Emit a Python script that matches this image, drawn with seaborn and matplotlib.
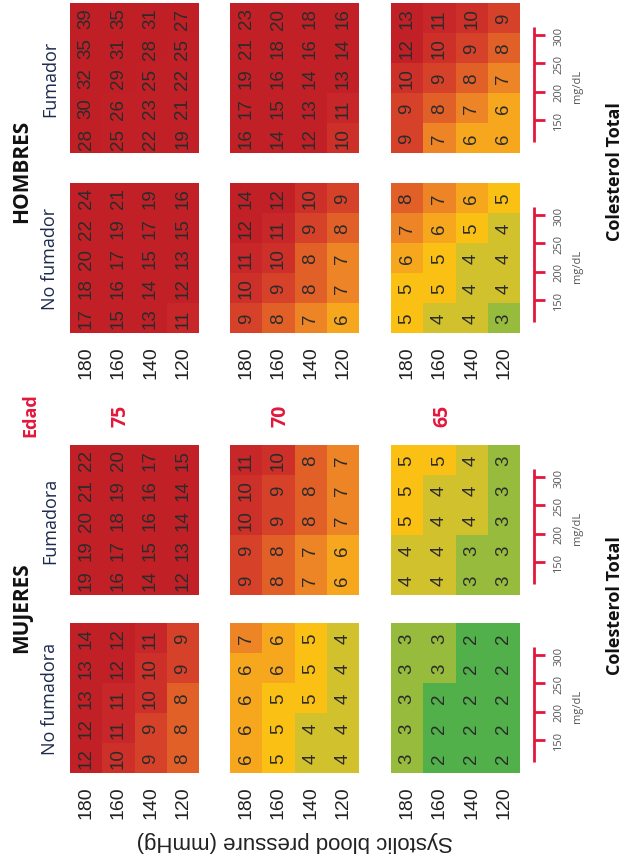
import numpy as np
import matplotlib
matplotlib.use("Agg")
import matplotlib.pyplot as plt
import seaborn as sns
from matplotlib.colors import LinearSegmentedColormap

# ---------------- data ----------------
ages = [75, 70, 65]
bp_labels = [180, 160, 140, 120]          # systolic blood pressure (rows)
chol_labels = [150, 200, 250, 300]        # total cholesterol scale (mg/dL)
groups = ["HOMBRES", "MUJERES"]
row_titles = ["Fumador", "No fumador", "Fumadora", "No fumadora"]

# each matrix: rows = BP 180,160,140,120 ; columns = cholesterol low -> high
hombres_fumador_75 = [[28, 30, 32, 35, 39], [25, 26, 29, 31, 35], [22, 23, 25, 28, 31], [19, 21, 22, 25, 27]]
hombres_fumador_70 = [[16, 17, 19, 21, 23], [14, 15, 16, 18, 20], [12, 13, 14, 16, 18], [10, 11, 13, 14, 16]]
hombres_fumador_65 = [[9, 9, 10, 12, 13], [7, 8, 9, 10, 11], [6, 7, 8, 9, 10], [6, 6, 7, 8, 9]]

hombres_nofum_75 = [[17, 18, 20, 22, 24], [15, 16, 17, 19, 21], [13, 14, 15, 17, 19], [11, 12, 13, 15, 16]]
hombres_nofum_70 = [[9, 10, 11, 12, 14], [8, 9, 10, 11, 12], [7, 8, 8, 9, 10], [6, 7, 7, 8, 9]]
hombres_nofum_65 = [[5, 5, 6, 7, 8], [4, 5, 5, 6, 7], [4, 4, 4, 5, 6], [3, 4, 4, 4, 5]]

mujeres_fumadora_75 = [[19, 19, 20, 21, 22], [16, 17, 18, 19, 20], [14, 15, 16, 16, 17], [12, 13, 14, 14, 15]]
mujeres_fumadora_70 = [[9, 9, 10, 10, 11], [8, 8, 9, 9, 10], [7, 7, 8, 8, 8], [6, 6, 7, 7, 7]]
mujeres_fumadora_65 = [[4, 4, 5, 5, 5], [4, 4, 4, 4, 5], [3, 3, 4, 4, 4], [3, 3, 3, 3, 3]]

mujeres_nofum_75 = [[12, 12, 13, 13, 14], [10, 11, 11, 12, 12], [9, 9, 10, 10, 11], [8, 8, 8, 9, 9]]
mujeres_nofum_70 = [[6, 6, 6, 6, 7], [5, 5, 5, 6, 6], [4, 4, 5, 5, 5], [4, 4, 4, 4, 4]]
mujeres_nofum_65 = [[3, 3, 3, 3, 3], [2, 2, 2, 3, 3], [2, 2, 2, 2, 2], [2, 2, 2, 2, 2]]

panel_rows = [
    [hombres_fumador_75, hombres_fumador_70, hombres_fumador_65],
    [hombres_nofum_75, hombres_nofum_70, hombres_nofum_65],
    [mujeres_fumadora_75, mujeres_fumadora_70, mujeres_fumadora_65],
    [mujeres_nofum_75, mujeres_nofum_70, mujeres_nofum_65],
]

# ---------------- style ----------------
sns.set_style("white")
plt.rcParams["font.family"] = ["Liberation Sans", "DejaVu Sans"]

VMIN, VMAX = 2, 40
stops = [(2, "#52b04a"), (3, "#9fbd3b"), (4, "#d4c12c"), (5, "#fbc012"),
         (6, "#f5a31f"), (7, "#ec8125"), (8, "#e15f28"), (9, "#d6412a"),
         (10, "#cc2d29"), (12, "#c22027"), (40, "#c01f26")]
cmap = LinearSegmentedColormap.from_list(
    "risk", [((v - VMIN) / (VMAX - VMIN), c) for v, c in stops])

W, H = 626, 862
fig = plt.figure(figsize=(W / 100, H / 100), dpi=100)
bg = fig.add_axes([0, 0, 1, 1])
bg.set_xlim(0, W)
bg.set_ylim(H, 0)
bg.axis("off")


def rect(x0, y0, w, h):
    return [x0 / W, 1 - (y0 + h) / H, w / W, h / H]


col_x = [70, 230, 391]
row_y = [4, 184, 446, 624]
PW, PH = 129, 150
RED = "#e3173c"
NAVY = "#1d2a4d"
OPEN = ["Open Sans", "DejaVu Sans"]

for r, (top, mats) in enumerate(zip(row_y, panel_rows)):
    show_ticks = r in (1, 3)
    for c, (x0, m) in enumerate(zip(col_x, mats)):
        ax = fig.add_axes(rect(x0, top, PW, PH))
        data = np.rot90(np.array(m))  # BP along x, cholesterol upward
        sns.heatmap(data, ax=ax, cmap=cmap, vmin=VMIN, vmax=VMAX, cbar=False,
                    annot=True, fmt="d",
                    annot_kws={"rotation": 90, "fontsize": 13.5, "color": "#2b2b2b"},
                    xticklabels=bp_labels if show_ticks else False,
                    yticklabels=False)
        if show_ticks:
            ax.tick_params(axis="x", length=0, pad=9, labelsize=14,
                           labelrotation=90, labelcolor="#222222")
        ax.set_xlabel("")
        ax.set_ylabel("")

    # cholesterol scale
    y_of = lambda ch: top + 117 - (ch - 150) / 50 * 28.3
    bg.plot([534, 534], [top + 24, top + 139], color=RED, lw=2, solid_capstyle="butt")
    for ch in chol_labels:
        yy = y_of(ch)
        bg.plot([534, 545], [yy, yy], color=RED, lw=2, solid_capstyle="butt")
        bg.text(559, yy, str(ch), rotation=90, ha="center", va="center",
                fontsize=8, color="#555555", family=OPEN)
    bg.text(578, top + 82, "mg/dL", rotation=90, ha="center", va="center",
            fontsize=8, color="#555555", family=OPEN)

    # row subtitle
    bg.text(50, top + PH / 2, row_titles[r], rotation=90, ha="center", va="center",
            fontsize=13, color=NAVY, family=OPEN)

# group titles
for g, yc in zip(groups, [171, 608]):
    bg.text(22, yc, g, rotation=90, ha="center", va="center", fontsize=15,
            fontweight="bold", color="#111111", family=OPEN)
for yc in [172, 606]:
    bg.text(615, yc, "Colesterol Total", rotation=90, ha="center", va="center",
            fontsize=13, fontweight="bold", color="#111111", family=OPEN)

# ages
bg.text(30, 415, "Edad", rotation=90, ha="center", va="center", fontsize=13,
        fontweight="bold", color=RED, family=OPEN)
for a, xc in zip(ages, [121, 281, 442]):
    bg.text(xc, 416, str(a), rotation=90, ha="center", va="center", fontsize=14,
            fontweight="bold", color=RED, family=OPEN)

# y-axis label (figure is rotated)
bg.text(295, 842, "Systolic blood pressure (mmHg)", rotation=180, ha="center",
        va="center", fontsize=16, color="#222222")

fig.savefig("out.png", dpi=100)
